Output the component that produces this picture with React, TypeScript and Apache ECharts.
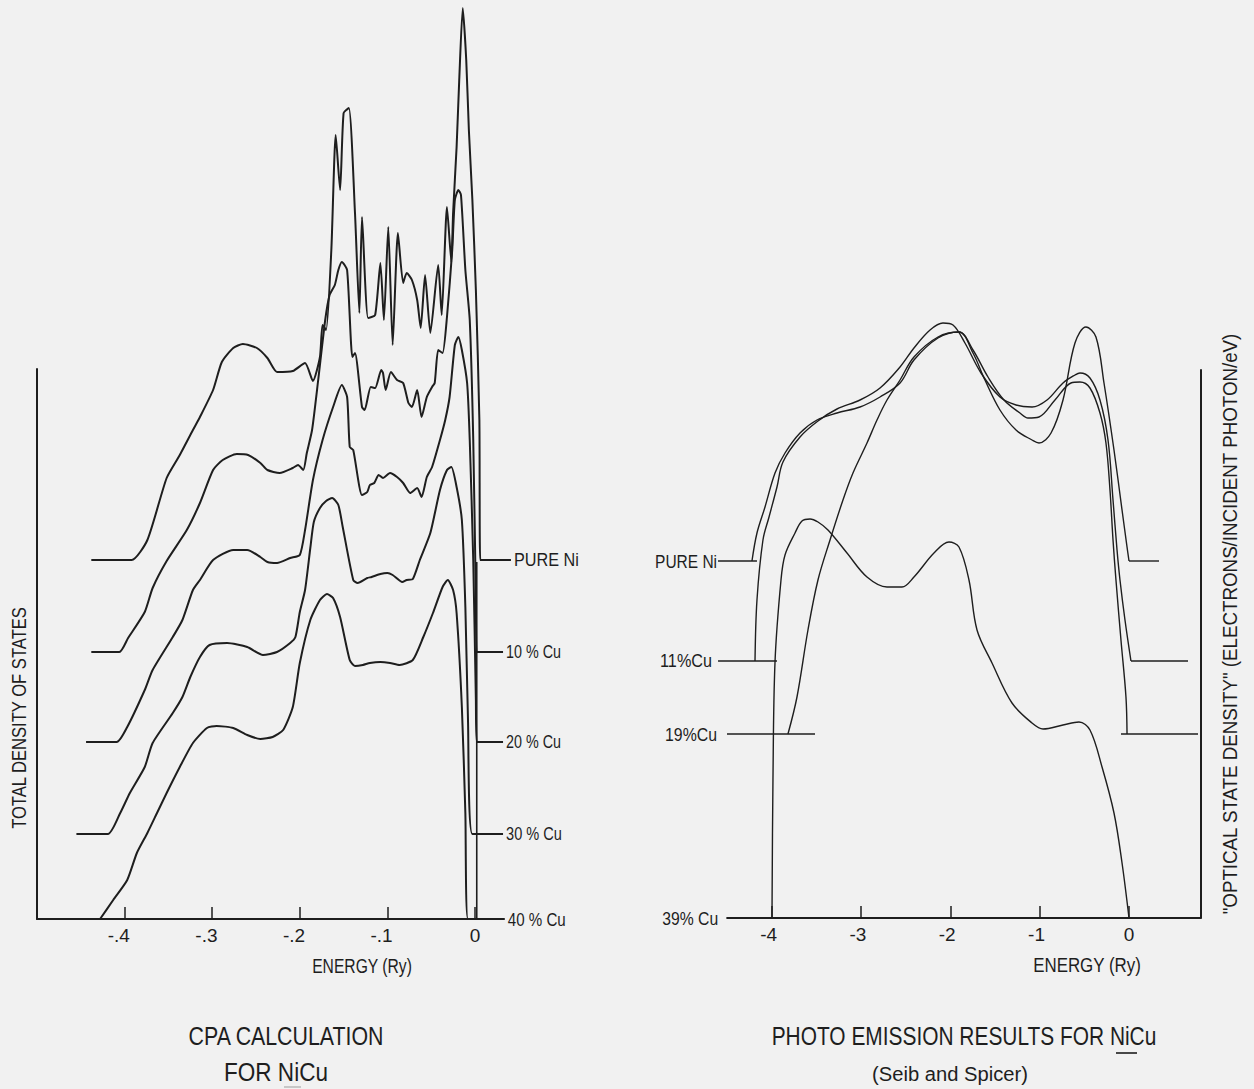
import React, { useEffect, useRef } from "react";
import * as echarts from "echarts";

// ---------- axis ticks ----------
const cpaTickValues = [-0.4, -0.3, -0.2, -0.1, 0];
const cpaTickLabels = ["-.4", "-.3", "-.2", "-.1", "0"];
const peTickValues = [-4, -3, -2, -1, 0];
const peTickLabels = ["-4", "-3", "-2", "-1", "0"];

// ---------- CPA calculation (energy in Ry, DOS in arbitrary units above each curve's baseline) ----------
const cpaNames = ["PURE Ni", "10 % Cu", "20 % Cu", "30 % Cu", "40 % Cu"];
const cpaOffsets = [35.9, 26.7, 17.7, 8.5, 0];
const cpaFermiE = 0.002;

const cpaPureNi = [
  [-0.438, 0], [-0.392, 0], [-0.374, 2.0], [-0.352, 8.2], [-0.337, 10.5], [-0.322, 13.0], [-0.314, 14.3],
  [-0.299, 17.0], [-0.289, 19.8], [-0.276, 21.2], [-0.265, 21.6], [-0.249, 21.2], [-0.237, 20.2],
  [-0.226, 18.8], [-0.208, 18.9], [-0.194, 19.7], [-0.185, 17.9], [-0.177, 20.3], [-0.174, 23.5],
  [-0.170, 23.0], [-0.164, 31.0], [-0.159, 42.5], [-0.154, 37.0], [-0.150, 44.7], [-0.144, 45.2],
  [-0.137, 34.7], [-0.132, 24.7], [-0.129, 34.3], [-0.122, 24.2], [-0.114, 24.5], [-0.108, 29.7],
  [-0.104, 24.0], [-0.099, 33.3], [-0.094, 21.5], [-0.088, 32.7], [-0.082, 27.7], [-0.078, 28.7],
  [-0.072, 28.0], [-0.066, 26.0], [-0.062, 23.2], [-0.057, 28.5], [-0.051, 22.7], [-0.042, 29.5],
  [-0.038, 24.5], [-0.032, 35.3], [-0.027, 29.8], [-0.025, 34.7], [-0.021, 41.3], [-0.018, 48.0],
  [-0.014, 55.2], [-0.010, 50.0], [-0.007, 43.0], [-0.003, 36.0], [0.001, 27.0], [0.005, 14.0],
  [0.006, 0], [0.041, 0],
];
const cpa10Cu = [
  [-0.438, 0], [-0.406, 0], [-0.396, 1.4], [-0.377, 4.0], [-0.368, 6.4], [-0.352, 9.1], [-0.329, 12.2],
  [-0.314, 14.9], [-0.299, 18.2], [-0.288, 19.2], [-0.272, 19.8], [-0.259, 19.7], [-0.245, 18.9],
  [-0.237, 18.2], [-0.223, 17.9], [-0.208, 18.4], [-0.202, 18.7], [-0.196, 18.2], [-0.192, 19.9],
  [-0.186, 22.2], [-0.179, 27.2], [-0.171, 33.2], [-0.166, 35.7], [-0.160, 36.7], [-0.156, 38.2],
  [-0.152, 39.0], [-0.146, 38.2], [-0.140, 29.5], [-0.137, 29.9], [-0.129, 24.5], [-0.126, 24.2],
  [-0.119, 26.5], [-0.114, 26.4], [-0.107, 28.2], [-0.105, 27.9], [-0.102, 26.2], [-0.096, 28.0],
  [-0.089, 27.2], [-0.082, 26.9], [-0.076, 24.9], [-0.072, 24.5], [-0.066, 26.2], [-0.061, 23.5],
  [-0.055, 25.5], [-0.049, 26.5], [-0.046, 26.9], [-0.042, 30.2], [-0.037, 29.9], [-0.032, 33.5],
  [-0.026, 40.2], [-0.023, 45.2], [-0.019, 46.2], [-0.016, 45.7], [-0.011, 38.2], [-0.006, 33.2],
  [-0.002, 21.2], [0.001, 5.2], [0.002, 0], [0.032, 0],
];
const cpa20Cu = [
  [-0.444, 0], [-0.409, 0], [-0.397, 1.5], [-0.377, 5.2], [-0.368, 7.2], [-0.345, 10.5], [-0.334, 12.2],
  [-0.322, 15.2], [-0.314, 16.2], [-0.299, 18.2], [-0.276, 19.2], [-0.260, 19.2], [-0.245, 18.5],
  [-0.237, 18.0], [-0.226, 17.9], [-0.211, 18.4], [-0.200, 18.7], [-0.194, 21.2], [-0.185, 26.2],
  [-0.174, 30.2], [-0.162, 33.5], [-0.152, 35.7], [-0.146, 34.5], [-0.143, 29.5], [-0.139, 29.2],
  [-0.129, 24.7], [-0.123, 25.0], [-0.120, 25.7], [-0.115, 25.9], [-0.110, 26.7], [-0.105, 26.4],
  [-0.097, 26.9], [-0.089, 26.5], [-0.082, 25.9], [-0.074, 24.9], [-0.066, 25.4], [-0.061, 24.5],
  [-0.055, 26.5], [-0.049, 27.5], [-0.040, 30.2], [-0.034, 32.2], [-0.029, 34.5], [-0.023, 39.7],
  [-0.019, 40.5], [-0.015, 39.2], [-0.009, 35.9], [-0.006, 30.2], [-0.002, 18.2], [0.001, 4.2],
  [0.002, 0], [0.032, 0],
];
const cpa30Cu = [
  [-0.455, 0], [-0.419, 0], [-0.405, 2.1], [-0.394, 4.1], [-0.377, 6.7], [-0.368, 9.1], [-0.345, 12.1],
  [-0.334, 13.7], [-0.325, 15.7], [-0.314, 17.7], [-0.303, 18.9], [-0.283, 19.1], [-0.260, 18.7],
  [-0.242, 17.9], [-0.226, 18.2], [-0.211, 19.1], [-0.205, 19.7], [-0.200, 22.2], [-0.194, 24.4],
  [-0.188, 28.6], [-0.184, 31.2], [-0.177, 32.6], [-0.170, 33.3], [-0.163, 33.6], [-0.156, 32.9],
  [-0.151, 30.7], [-0.139, 25.4], [-0.134, 25.1], [-0.123, 25.6], [-0.118, 25.7], [-0.108, 26.0],
  [-0.100, 26.1], [-0.094, 25.9], [-0.083, 25.2], [-0.078, 25.4], [-0.071, 25.5], [-0.063, 27.4],
  [-0.051, 30.1], [-0.040, 34.4], [-0.032, 36.4], [-0.027, 36.7], [-0.021, 34.7], [-0.015, 31.4],
  [-0.011, 22.7], [-0.008, 11.4], [-0.003, 0], [0.032, 0],
];
const cpa40Cu = [
  [-0.428, 0], [-0.413, 1.9], [-0.397, 3.9], [-0.386, 6.6], [-0.374, 8.6], [-0.363, 10.6], [-0.352, 12.6],
  [-0.337, 15.2], [-0.322, 17.6], [-0.306, 19.1], [-0.295, 19.3], [-0.276, 19.1], [-0.260, 18.4],
  [-0.245, 18.0], [-0.231, 18.2], [-0.219, 18.9], [-0.208, 21.2], [-0.200, 25.6], [-0.188, 29.9],
  [-0.177, 31.9], [-0.169, 32.5], [-0.162, 32.1], [-0.154, 30.2], [-0.143, 25.9], [-0.137, 25.3],
  [-0.128, 25.4], [-0.120, 25.6], [-0.108, 25.7], [-0.097, 25.6], [-0.086, 25.4], [-0.071, 25.9],
  [-0.059, 28.2], [-0.048, 30.6], [-0.037, 33.2], [-0.031, 33.9], [-0.025, 32.9], [-0.021, 30.6],
  [-0.015, 21.2], [-0.011, 10.6], [-0.008, 0], [0.034, 0],
];
const cpaCurves = [cpaPureNi, cpa10Cu, cpa20Cu, cpa30Cu, cpa40Cu];

// ---------- Photoemission (Seib and Spicer), energy in eV ----------
const peNames = ["PURE Ni", "11%Cu", "19%Cu", "39% Cu"];
const peOffsets = [35.7, 25.7, 18.4, 0];
const peBaseLeft = [[-4.602, -4.166], [-4.602, -3.942], [-4.502, -3.516], null];
const peBaseRight = [[0.0, 0.336], [0.022, 0.661], [-0.09, 0.773], null];

const pePureNi = [
  [-4.222, 0], [-4.166, 2.8], [-4.076, 5.4], [-3.964, 8.8], [-3.852, 10.8], [-3.684, 12.8], [-3.494, 14.1],
  [-3.270, 14.8], [-3.012, 15.4], [-2.788, 16.4], [-2.564, 17.8], [-2.408, 20.1], [-2.139, 22.3],
  [-1.904, 22.9], [-1.747, 20.8], [-1.613, 18.1], [-1.445, 15.1], [-1.265, 13.1], [-1.086, 12.1],
  [-1.008, 11.8], [-0.873, 12.8], [-0.739, 16.1], [-0.605, 21.8], [-0.482, 23.4], [-0.370, 22.4],
  [-0.280, 17.8], [-0.168, 11.1], [-0.078, 5.1], [-0.022, 1.4], [0.0, 0],
];
const pe11Cu = [
  [-4.188, 0], [-4.166, 6.1], [-4.099, 12.1], [-4.031, 14.4], [-3.942, 17.4], [-3.875, 19.9],
  [-3.684, 22.4], [-3.483, 24.0], [-3.270, 25.2], [-3.012, 26.1], [-2.788, 27.3], [-2.564, 29.4],
  [-2.408, 31.3], [-2.228, 33.1], [-2.083, 33.8], [-1.971, 33.6], [-1.837, 31.8], [-1.657, 28.8],
  [-1.445, 26.4], [-1.265, 25.6], [-1.086, 25.4], [-0.918, 26.1], [-0.739, 27.8], [-0.605, 28.6],
  [-0.549, 28.8], [-0.437, 28.3], [-0.325, 26.1], [-0.235, 22.1], [-0.179, 16.1], [-0.134, 11.1],
  [-0.101, 8.1], [-0.045, 4.1], [0.022, 0],
];
const pe19Cu = [
  [-3.819, 0], [-3.718, 3.7], [-3.595, 10.4], [-3.483, 15.4], [-3.348, 19.4], [-3.203, 23.4],
  [-3.091, 26.1], [-2.934, 29.1], [-2.822, 31.4], [-2.710, 33.4], [-2.564, 35.4], [-2.408, 37.7],
  [-2.139, 39.7], [-1.904, 40.2], [-1.747, 38.4], [-1.579, 35.7], [-1.400, 33.4], [-1.221, 32.1],
  [-1.131, 31.6], [-1.008, 31.7], [-0.829, 33.4], [-0.650, 35.1], [-0.549, 35.2], [-0.437, 34.6],
  [-0.325, 32.1], [-0.258, 29.1], [-0.213, 24.4], [-0.179, 19.4], [-0.146, 15.4], [-0.090, 9.4],
  [-0.034, 3.7], [-0.022, 0],
];
const pe39Cu = [
  [-3.998, 0], [-3.987, 13.8], [-3.964, 25.6], [-3.897, 33.8], [-3.852, 36.3], [-3.740, 38.5],
  [-3.662, 39.7], [-3.572, 39.9], [-3.483, 39.6], [-3.371, 38.8], [-3.158, 36.5], [-2.934, 34.1],
  [-2.710, 33.1], [-2.542, 33.1], [-2.408, 34.1], [-2.184, 36.5], [-2.016, 37.6], [-1.904, 37.1],
  [-1.792, 33.8], [-1.702, 28.8], [-1.534, 25.5], [-1.310, 21.5], [-1.086, 19.5], [-0.963, 18.9],
  [-0.739, 19.3], [-0.560, 19.6], [-0.437, 18.8], [-0.302, 15.1], [-0.168, 10.5], [-0.078, 5.5],
  [0.0, 0],
];
const peCurves = [pePureNi, pe11Cu, pe19Cu, pe39Cu];

// ---------- style ----------
const INK = "#1e1e1e";
const BG = "#f1f1f1";
const FAMILY = "Liberation Sans";
const FONT = '"Liberation Sans", Arial, sans-serif';

// scales (px per unit) shared by the visible axes and the full-range drawing axes
const CPA_PX = 876; // px per Ry
const PE_PX = 89.3; // px per eV
const CPA_X0 = 475; // pixel of E = 0 (left)
const PE_X0 = 1129; // pixel of E = 0 (right)

let measureCtx: CanvasRenderingContext2D | null = null;
function textW(t: string, size: number): number {
  if (!measureCtx) measureCtx = document.createElement("canvas").getContext("2d");
  measureCtx!.font = `${size}px "${FAMILY}"`;
  return measureCtx!.measureText(t).width || 1;
}

function condText(text: string, x: number, y: number, w: number, size: number, align = "center", rot = 0) {
  return {
    type: "text",
    x,
    y,
    rotation: rot,
    scaleX: w / textW(text, size),
    silent: true,
    style: {
      text,
      fontSize: size,
      fontFamily: FONT,
      fill: INK,
      align,
      verticalAlign: "middle",
      textAlign: align,
      textVerticalAlign: "middle",
    },
  };
}

function tickAxis(values: number[], labels: string[], min: number, max: number, gridIndex: number) {
  const rich: any = {};
  labels.forEach((lab, i) => {
    const pre = lab.slice(0, -1);
    rich["t" + i] = {
      fontSize: 19,
      fontFamily: FONT,
      color: INK,
      padding: [0, pre ? textW(pre, 19) : 0, 0, 0],
    };
  });
  return {
    type: "value",
    gridIndex,
    min,
    max,
    axisLine: { show: true, onZero: false, lineStyle: { color: INK, width: 2 } },
    axisTick: { show: true, inside: true, length: 12, customValues: values, lineStyle: { color: INK, width: 1.5 } },
    axisLabel: {
      show: true,
      customValues: values,
      margin: 7,
      color: INK,
      fontSize: 19,
      fontFamily: FONT,
      rich,
      formatter: (v: number) => {
        const i = values.findIndex((t) => Math.abs(t - v) < 1e-9);
        return i < 0 ? "" : `{t${i}|${labels[i]}}`;
      },
    },
    splitLine: { show: false },
  };
}

function plainY(gridIndex: number, max: number, position: string, show = true) {
  return {
    type: "value",
    gridIndex,
    min: 0,
    max,
    position,
    show,
    axisLine: { show, onZero: false, lineStyle: { color: INK, width: 2 } },
    axisTick: { show: false },
    axisLabel: { show: false },
    splitLine: { show: false },
  };
}

function hiddenX(gridIndex: number, min: number, max: number) {
  return {
    type: "value",
    gridIndex,
    min,
    max,
    show: false,
    axisLine: { show: false },
    axisTick: { show: false },
    axisLabel: { show: false },
    splitLine: { show: false },
  };
}

function lineSeries(name: string, data: number[][], gi: number, width: number, smooth: number) {
  return {
    type: "line",
    name,
    xAxisIndex: gi,
    yAxisIndex: gi,
    data,
    showSymbol: false,
    symbol: "none",
    smooth,
    clip: false,
    silent: true,
    lineStyle: { color: INK, width },
  };
}

export default function App() {
  const ref = useRef<HTMLDivElement>(null);

  useEffect(() => {
    document.body.style.margin = "0";
    const chart = echarts.init(ref.current!, undefined, { renderer: "svg" });

    // drawing grids (2: CPA, 3: photoemission) cover every data point with the same scale as the visible axes
    const cpaMin = -0.5, cpaMax = 0.004, cpaDrawMax = 0.045;
    const peMin = -4.5, peMax = 0.8, peDrawMin = -4.7;
    const cpaYTop = 91.9; // units (10 px each) from the bottom axis to the page top
    const peYTop = 91.8;

    const series: any[] = [];
    cpaCurves.forEach((c, i) => {
      series.push(lineSeries(cpaNames[i], c.map(([e, d]) => [e, d + cpaOffsets[i]]), 2, 2, 0.2));
    });
    series.push(lineSeries("E_F", [[cpaFermiE, cpaOffsets[4]], [cpaFermiE, cpaOffsets[0] - 0.2]], 2, 1.6, 0));

    peCurves.forEach((c, i) => {
      series.push(lineSeries(peNames[i], c.map(([e, d]) => [e, d + peOffsets[i]]), 3, 1.4, 0.35));
      const bl = peBaseLeft[i];
      const br = peBaseRight[i];
      if (bl) series.push(lineSeries(peNames[i] + " base L", [[bl[0], peOffsets[i]], [bl[1], peOffsets[i]]], 3, 1.4, 0));
      if (br) series.push(lineSeries(peNames[i] + " base R", [[br[0], peOffsets[i]], [br[1], peOffsets[i]]], 3, 1.4, 0));
    });

    const cpaLeft = CPA_X0 + cpaMin * CPA_PX;
    const peLeft = PE_X0 + peMin * PE_PX;
    const peDrawLeft = PE_X0 + peDrawMin * PE_PX;

    const option: any = {
      animation: false,
      backgroundColor: BG,
      grid: [
        { left: cpaLeft, top: 369, width: (cpaMax - cpaMin) * CPA_PX, height: 550, outerBoundsMode: "none" },
        { left: peLeft, top: 370, width: (peMax - peMin) * PE_PX, height: 548, outerBoundsMode: "none" },
        { left: cpaLeft, top: 0, width: (cpaDrawMax - cpaMin) * CPA_PX, height: 919, outerBoundsMode: "none" },
        { left: peDrawLeft, top: 0, width: (peMax - peDrawMin) * PE_PX, height: 918, outerBoundsMode: "none" },
      ],
      xAxis: [
        tickAxis(cpaTickValues, cpaTickLabels, cpaMin, cpaMax, 0),
        tickAxis(peTickValues, peTickLabels, peMin, peMax, 1),
        hiddenX(2, cpaMin, cpaDrawMax),
        hiddenX(3, peDrawMin, peMax),
      ],
      yAxis: [
        plainY(0, 55, "left"),
        plainY(1, 54.8, "right"),
        plainY(2, cpaYTop, "left", false),
        plainY(3, peYTop, "right", false),
      ],
      series,
    };
    chart.setOption(option);

    const g: any[] = [];
    // CPA curve labels, at the right end of each curve's baseline
    const cpaWidths = [65, 55, 55, 56, 58];
    cpaCurves.forEach((c, i) => {
      const last = c[c.length - 1];
      const p = chart.convertToPixel({ gridIndex: 2 } as any, [last[0], cpaOffsets[i]]) as number[];
      g.push(condText(cpaNames[i], p[0] + 3, p[1], cpaWidths[i], 19, "left"));
    });
    // Photoemission labels, to the left of each baseline
    const peGaps = [1, 6, 10, 9];
    const peWidths = [62, 52, 52, 56];
    peCurves.forEach((_, i) => {
      const bl = peBaseLeft[i];
      const e = bl ? bl[0] : peMin;
      const p = chart.convertToPixel({ gridIndex: 3 } as any, [e, peOffsets[i]]) as number[];
      g.push(condText(peNames[i], p[0] - peGaps[i], p[1], peWidths[i], 19, "right"));
    });

    // axis names and titles
    g.push(condText("TOTAL DENSITY OF STATES", 19, 718, 223, 20, "center", Math.PI / 2));
    g.push(condText("ENERGY (Ry)", 362, 966, 100, 20));
    g.push(condText("ENERGY (Ry)", 1087, 965, 108, 20));
    g.push(
      condText('"OPTICAL STATE DENSITY" (ELECTRONS/INCIDENT PHOTON/eV)', 1230, 624, 582, 21, "center", Math.PI / 2)
    );
    g.push(condText("CPA CALCULATION", 286, 1036, 196, 26));
    g.push(condText("FOR NiCu", 276, 1072, 104, 26));
    g.push(condText("PHOTO EMISSION RESULTS FOR NiCu", 964, 1036, 385, 26));
    g.push(condText("(Seib and Spicer)", 950, 1073, 156, 21));
    g.push({
      type: "line",
      silent: true,
      shape: { x1: 1116, y1: 1053, x2: 1137, y2: 1053 },
      style: { stroke: INK, lineWidth: 1.6 },
    });
    g.push({
      type: "line",
      silent: true,
      shape: { x1: 284, y1: 1087, x2: 301, y2: 1087 },
      style: { stroke: "#b5b5b5", lineWidth: 1.4 },
    });

    chart.setOption({ graphic: { elements: g } });

    return () => chart.dispose();
  }, []);

  return (
    <div
      ref={ref}
      style={{ position: "fixed", left: 0, top: 0, width: 1254, height: 1089, background: BG }}
    />
  );
}
